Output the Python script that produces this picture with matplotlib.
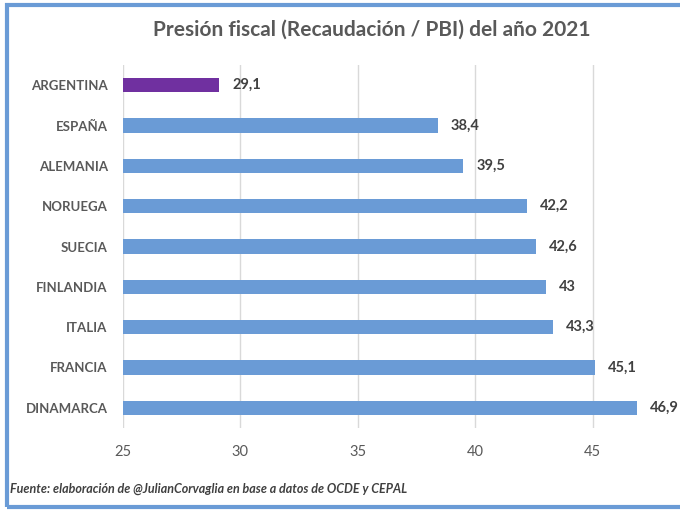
import matplotlib.pyplot as plt
from matplotlib.patches import Rectangle

# --- datos ---
paises = ["ARGENTINA", "ESPAÑA", "ALEMANIA", "NORUEGA", "SUECIA",
          "FINLANDIA", "ITALIA", "FRANCIA", "DINAMARCA"]
presion = [29.1, 38.4, 39.5, 42.2, 42.6, 43.0, 43.3, 45.1, 46.9]
etiquetas = ["29,1", "38,4", "39,5", "42,2", "42,6", "43", "43,3", "45,1", "46,9"]
ticks_x = [25, 30, 35, 40, 45]

AZUL = "#6A9BD6"
VIOLETA = "#7030A0"
GRIS = "#595959"

plt.rcParams['font.family'] = ['Lato', 'DejaVu Sans']

fig = plt.figure(figsize=(6.8, 5.12), dpi=100)
fig.patch.set_facecolor("white")

# marco azul del grafico (captura de Excel)
fig.patches.append(Rectangle((7 / 680, 5 / 512), 1.2, 502 / 512,
                             transform=fig.transFigure, fill=False,
                             edgecolor="#6A9BD6", linewidth=3))

ax = fig.add_axes([123 / 680, 84 / 512, 587 / 680, 363 / 512])

colores = [VIOLETA if p == "ARGENTINA" else AZUL for p in paises]
y = list(range(len(paises)))
ax.barh(y, presion, left=0, height=0.35, color=colores, zorder=3)
ax.invert_yaxis()
ax.set_xlim(25, 50)
ax.set_ylim(len(paises) - 0.5, -0.5)

for yi, v, t in zip(y, presion, etiquetas):
    ax.text(v + 0.55, yi, t, va="center", ha="left", fontsize=10.5,
            fontweight="bold", color="#404040", zorder=4)

ax.set_yticks(y)
ax.set_yticklabels(paises, fontsize=9.5, fontweight="bold", color=GRIS)
ax.set_xticks(ticks_x)
ax.set_xticklabels([str(t) for t in ticks_x], fontsize=10.5, color=GRIS)
ax.tick_params(axis="y", length=0, pad=11)
ax.tick_params(axis="x", length=0, pad=12)

ax.grid(axis="x", color="#D9D9D9", linewidth=1, zorder=0)
for s in ax.spines.values():
    s.set_visible(False)

fig.text(372 / 680, 1 - 30 / 512, "Presión fiscal (Recaudación / PBI) del año 2021",
         ha="center", va="center", fontsize=15, fontweight="bold", color=GRIS)
fig.text(10 / 680, 1 - 489 / 512,
         "Fuente: elaboración de @JulianCorvaglia en base a datos de OCDE y CEPAL",
         ha="left", va="center", fontsize=9, fontweight="bold", style="italic",
         color="#404040")

fig.savefig("out.png", dpi=100)
